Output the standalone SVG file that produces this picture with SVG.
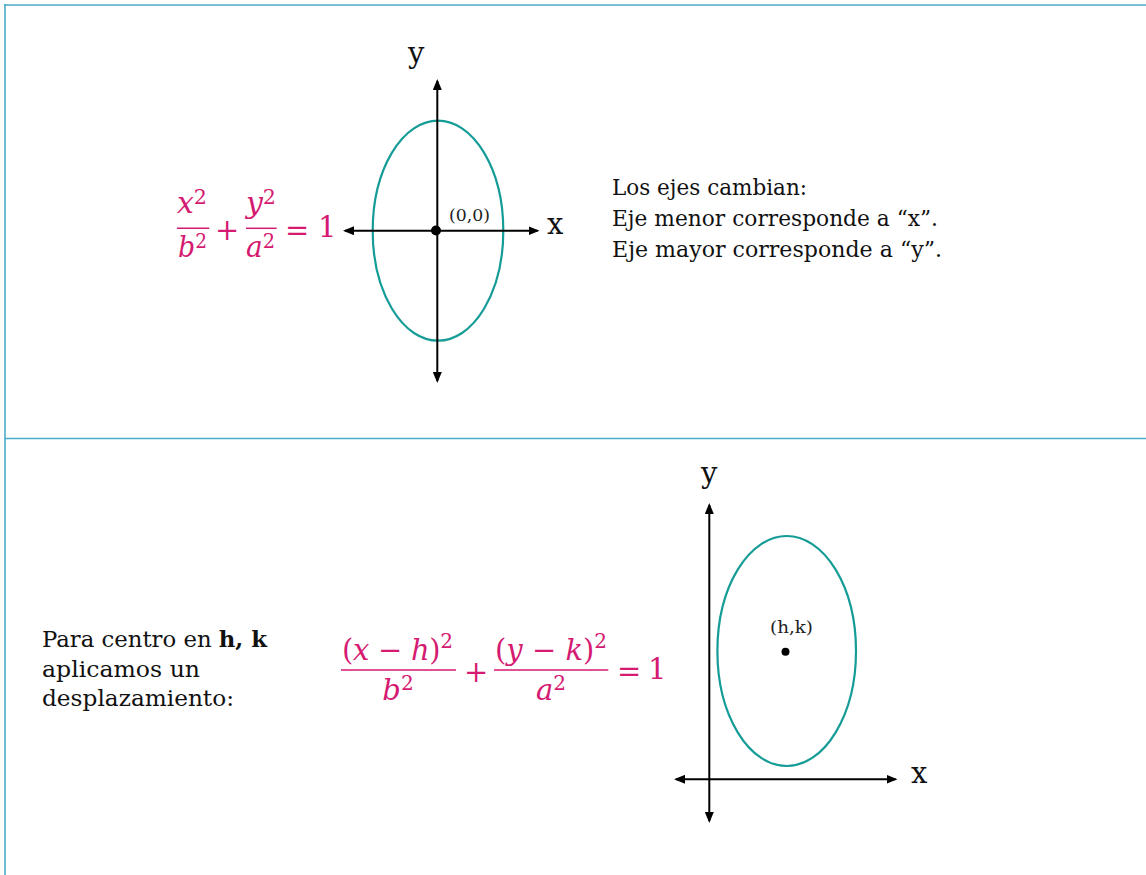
<svg xmlns="http://www.w3.org/2000/svg" width="1146" height="875" viewBox="0 0 1146 875">
<style>
.frame{stroke:#4BACC6;stroke-width:1.6;fill:none}
.axis{stroke:#000;stroke-width:2;fill:none;marker-start:url(#ah);marker-end:url(#ah)}
.ell{fill:none;stroke:#169C97;stroke-width:2.2}
.body{font-family:"DejaVu Serif","Liberation Serif",serif;font-size:22px;fill:#111}
.lbl{font-family:"DejaVu Serif","Liberation Serif",serif;font-size:17px;fill:#222}
.axl{font-family:"DejaVu Serif","Liberation Serif",serif;font-size:29px;fill:#111}
.m{font-family:"DejaVu Serif","Liberation Serif",serif;font-size:29px;fill:#D51A72}
.mi{font-style:italic}
.sup{font-size:20px;font-style:normal}
.fl{stroke:#D51A72;stroke-width:1.5}
</style>
<defs>
<marker id="ah" viewBox="0 0 11 9" markerWidth="11" markerHeight="9" refX="9" refY="4.5" orient="auto-start-reverse" markerUnits="userSpaceOnUse">
<path d="M0,0 L11,4.5 L0,9 z" fill="#000"/>
</marker>
</defs>

<g id="frame">
<line class="frame" x1="4" y1="5" x2="1146" y2="5"/>
<line class="frame" x1="5" y1="4" x2="5" y2="875"/>
<line class="frame" x1="5" y1="438.5" x2="1146" y2="438.5"/>
</g>

<g id="top-ellipse">
<ellipse class="ell" cx="438" cy="230.7" rx="65.3" ry="110"/>
</g>

<g id="connectors">
<line class="axis" x1="437.3" y1="381" x2="437.3" y2="81"/>
<line class="axis" x1="345" y1="230.7" x2="537.5" y2="230.7"/>
<line class="axis" x1="709.3" y1="821" x2="709.3" y2="505"/>
<line class="axis" x1="676" y1="779.3" x2="895.5" y2="779.3"/>
</g>

<g id="top-origin">
<circle cx="436" cy="230.5" r="5" fill="#000"/>
<text class="lbl" x="449" y="221" textLength="41" lengthAdjust="spacingAndGlyphs">(0,0)</text>
</g>

<g id="top-axis-labels">
<text class="axl" x="408" y="63">y</text>
<text class="axl" x="547" y="234">x</text>
</g>

<g id="top-formula">
<text class="m" x="177" y="213" textLength="30" lengthAdjust="spacingAndGlyphs"><tspan class="mi">x</tspan><tspan class="sup" dy="-9">2</tspan></text>
<line class="fl" x1="177" y1="228.3" x2="209.3" y2="228.3"/>
<text class="m" x="178" y="257" textLength="29" lengthAdjust="spacingAndGlyphs"><tspan class="mi">b</tspan><tspan class="sup" dy="-9">2</tspan></text>
<text class="m" x="215" y="240">+</text>
<text class="m" x="246" y="213" textLength="30" lengthAdjust="spacingAndGlyphs"><tspan class="mi">y</tspan><tspan class="sup" dy="-9">2</tspan></text>
<line class="fl" x1="246" y1="228.3" x2="276.7" y2="228.3"/>
<text class="m" x="246" y="257" textLength="29" lengthAdjust="spacingAndGlyphs"><tspan class="mi">a</tspan><tspan class="sup" dy="-9">2</tspan></text>
<text class="m" x="285" y="240">=</text>
<text class="m" x="318" y="237">1</text>
</g>

<g id="top-text">
<text class="body" x="612" y="195" textLength="195" lengthAdjust="spacingAndGlyphs">Los ejes cambian:</text>
<text class="body" x="612" y="226" textLength="326" lengthAdjust="spacingAndGlyphs">Eje menor corresponde a “x”.</text>
<text class="body" x="612" y="257" textLength="330" lengthAdjust="spacingAndGlyphs">Eje mayor corresponde a “y”.</text>
</g>

<g id="bottom-text">
<text class="body" x="42" y="647" textLength="225" lengthAdjust="spacingAndGlyphs">Para centro en <tspan font-weight="bold">h, k</tspan></text>
<text class="body" x="42" y="677" textLength="158" lengthAdjust="spacingAndGlyphs">aplicamos un</text>
<text class="body" x="42" y="706" textLength="192" lengthAdjust="spacingAndGlyphs">desplazamiento:</text>
</g>

<g id="bottom-formula">
<text class="m" x="342" y="660" textLength="111">(<tspan class="mi">x</tspan> − <tspan class="mi">h</tspan>)<tspan class="sup" dy="-12">2</tspan></text>
<line class="fl" x1="341" y1="670" x2="456" y2="670"/>
<text class="m" x="398" y="700" text-anchor="middle"><tspan class="mi">b</tspan><tspan class="sup" dy="-10">2</tspan></text>
<text class="m" x="464" y="682">+</text>
<text class="m" x="495" y="660" textLength="112">(<tspan class="mi">y</tspan> − <tspan class="mi">k</tspan>)<tspan class="sup" dy="-12">2</tspan></text>
<line class="fl" x1="494" y1="670" x2="608.3" y2="670"/>
<text class="m" x="551" y="700" text-anchor="middle"><tspan class="mi">a</tspan><tspan class="sup" dy="-10">2</tspan></text>
<text class="m" x="617" y="681">=</text>
<text class="m" x="648" y="679">1</text>
</g>

<g id="bottom-ellipse">
<ellipse class="ell" cx="786.7" cy="651" rx="69.3" ry="115"/>
<circle cx="785.5" cy="651.7" r="4" fill="#000"/>
<text class="lbl" x="770" y="633" textLength="43" lengthAdjust="spacingAndGlyphs">(h,k)</text>
</g>

<g id="bottom-axis-labels">
<text class="axl" x="701" y="483">y</text>
<text class="axl" x="911" y="783">x</text>
</g>
</svg>
